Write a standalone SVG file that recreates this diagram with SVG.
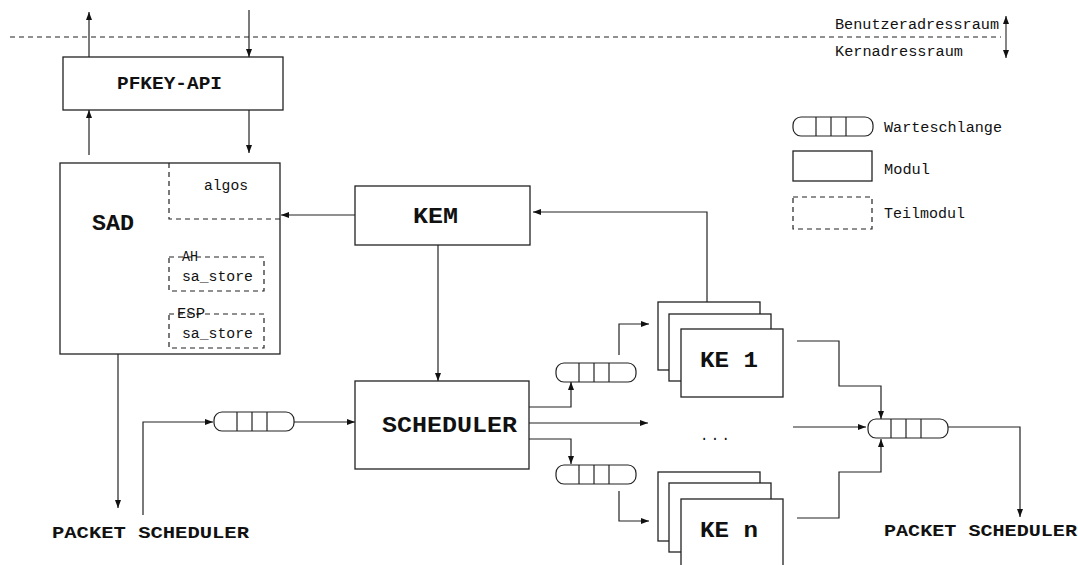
<svg xmlns="http://www.w3.org/2000/svg" width="1078" height="565" viewBox="0 0 1078 565">
<style>
.box{fill:#fff;stroke:#222;stroke-width:1.3}
.dash{fill:none;stroke:#222;stroke-width:1.2;stroke-dasharray:5 4}
.q{fill:#fff;stroke:#222;stroke-width:1.2}
.ln{fill:none;stroke:#222;stroke-width:1.2;marker-end:url(#ah)}
.big{font-family:"Liberation Mono",monospace;font-weight:bold;fill:#111}
.sm{font-family:"Liberation Mono",monospace;font-size:14px;fill:#111}
</style>
<defs>
<marker id="ah" markerUnits="userSpaceOnUse" markerWidth="9" markerHeight="7" refX="8" refY="3" orient="auto"><path d="M0,0 L8,3 L0,6 z" fill="#111"/></marker>
<marker id="ahs" markerUnits="userSpaceOnUse" markerWidth="9" markerHeight="7" refX="0" refY="3" orient="auto"><path d="M8,0 L0,3 L8,6 z" fill="#111"/></marker>
<g id="queue">
<rect x="0" y="0" width="80" height="19" rx="8" class="q"/>
<line x1="23" y1="0" x2="23" y2="19" stroke="#222" stroke-width="1.2"/>
<line x1="38" y1="0" x2="38" y2="19" stroke="#222" stroke-width="1.2"/>
<line x1="53" y1="0" x2="53" y2="19" stroke="#222" stroke-width="1.2"/>
</g>
</defs>
<rect width="1078" height="565" fill="#fff"/>

<g id="boundary">
<line x1="10" y1="37" x2="1001" y2="37" class="dash"/>
<text x="835" y="29" class="sm" textLength="164" lengthAdjust="spacingAndGlyphs">Benutzeradressraum</text>
<text x="835" y="56" class="sm" textLength="128" lengthAdjust="spacingAndGlyphs">Kernadressraum</text>
<line x1="1006" y1="16" x2="1006" y2="58" stroke="#222" stroke-width="1.1" marker-start="url(#ahs)" marker-end="url(#ah)"/>
</g>

<g id="legend">
<use href="#queue" x="793" y="117"/>
<text x="884" y="132" class="sm" textLength="118" lengthAdjust="spacingAndGlyphs">Warteschlange</text>
<rect x="793" y="151" width="79" height="30" class="box"/>
<text x="884" y="174" class="sm" textLength="46" lengthAdjust="spacingAndGlyphs">Modul</text>
<rect x="793" y="197" width="79" height="32" class="dash"/>
<text x="884" y="218" class="sm" textLength="81" lengthAdjust="spacingAndGlyphs">Teilmodul</text>
</g>

<g id="pfkey">
<rect x="63" y="57" width="220" height="53" class="box"/>
<text x="117" y="89" class="big" font-size="18" textLength="105" lengthAdjust="spacingAndGlyphs">PFKEY-API</text>
</g>

<g id="sad">
<rect x="60" y="163" width="220" height="191" class="box"/>
<text x="92" y="230" class="big" font-size="22" textLength="42" lengthAdjust="spacingAndGlyphs">SAD</text>
<path d="M169,163 V219 H280" class="dash"/>
<text x="204" y="190" class="sm" textLength="44" lengthAdjust="spacingAndGlyphs">algos</text>
<rect x="169" y="257" width="95" height="34" class="dash"/>
<text x="182" y="261" class="sm" font-size="12" textLength="16" lengthAdjust="spacingAndGlyphs">AH</text>
<text x="182" y="281" class="sm" textLength="71" lengthAdjust="spacingAndGlyphs">sa_store</text>
<rect x="169" y="314" width="95" height="34" class="dash"/>
<text x="177" y="318" class="sm" font-size="12" textLength="28" lengthAdjust="spacingAndGlyphs">ESP</text>
<text x="182" y="338" class="sm" textLength="71" lengthAdjust="spacingAndGlyphs">sa_store</text>
</g>

<g id="kem">
<rect x="355" y="186" width="175" height="59" class="box"/>
<text x="413" y="223" class="big" font-size="22" textLength="45" lengthAdjust="spacingAndGlyphs">KEM</text>
</g>

<g id="scheduler">
<rect x="355" y="381" width="174" height="88" class="box"/>
<text x="382" y="432" class="big" font-size="22" textLength="135" lengthAdjust="spacingAndGlyphs">SCHEDULER</text>
</g>

<g id="queue-in"><use href="#queue" x="214" y="412"/></g>
<g id="queue-1"><use href="#queue" x="556" y="363"/></g>
<g id="queue-2"><use href="#queue" x="556" y="465"/></g>
<g id="queue-out"><use href="#queue" x="868" y="419"/></g>

<g id="ke1">
<rect x="658" y="302" width="102" height="68" class="box"/>
<rect x="669" y="314" width="102" height="67" class="box"/>
<rect x="681" y="329" width="102" height="68" class="box"/>
<text x="700" y="367" class="big" font-size="22" textLength="58" lengthAdjust="spacingAndGlyphs">KE 1</text>
</g>

<g id="dots">
<text x="700" y="440" class="sm" textLength="30" lengthAdjust="spacing">...</text>
</g>

<g id="ken">
<rect x="658" y="472" width="102" height="69" class="box"/>
<rect x="669" y="483" width="102" height="69" class="box"/>
<rect x="681" y="499" width="102" height="80" class="box"/>
<text x="700" y="537" class="big" font-size="22" textLength="58" lengthAdjust="spacingAndGlyphs">KE n</text>
</g>

<g id="ps-left">
<text x="52" y="538" class="big" font-size="17" textLength="197" lengthAdjust="spacingAndGlyphs">PACKET SCHEDULER</text>
</g>
<g id="ps-right">
<text x="884" y="536" class="big" font-size="17" textLength="193" lengthAdjust="spacingAndGlyphs">PACKET SCHEDULER</text>
</g>

<g id="connectors">
<path d="M89,57 V12" class="ln"/>
<path d="M249,10 V57" class="ln"/>
<path d="M89,155 V110" class="ln"/>
<path d="M249,110 V153" class="ln"/>
<path d="M355,215 H281" class="ln"/>
<path d="M438,245 V381" class="ln"/>
<path d="M118,354 V508" class="ln"/>
<path d="M143,515 V422 H213" class="ln"/>
<path d="M294,422 H355" class="ln"/>
<path d="M529,407 H571 V382" class="ln"/>
<path d="M529,423 H648" class="ln"/>
<path d="M529,439 H571 V464" class="ln"/>
<path d="M619,355 V324 H649" class="ln"/>
<path d="M619,491 V521 H649" class="ln"/>
<path d="M707,302 V212 H533" class="ln"/>
<path d="M797,341 H839 V386 H881 V419" class="ln"/>
<path d="M793,427 H866" class="ln"/>
<path d="M797,518 H839 V472 H881 V439" class="ln"/>
<path d="M948,427 H1020 V517" class="ln"/>
</g>
</svg>
